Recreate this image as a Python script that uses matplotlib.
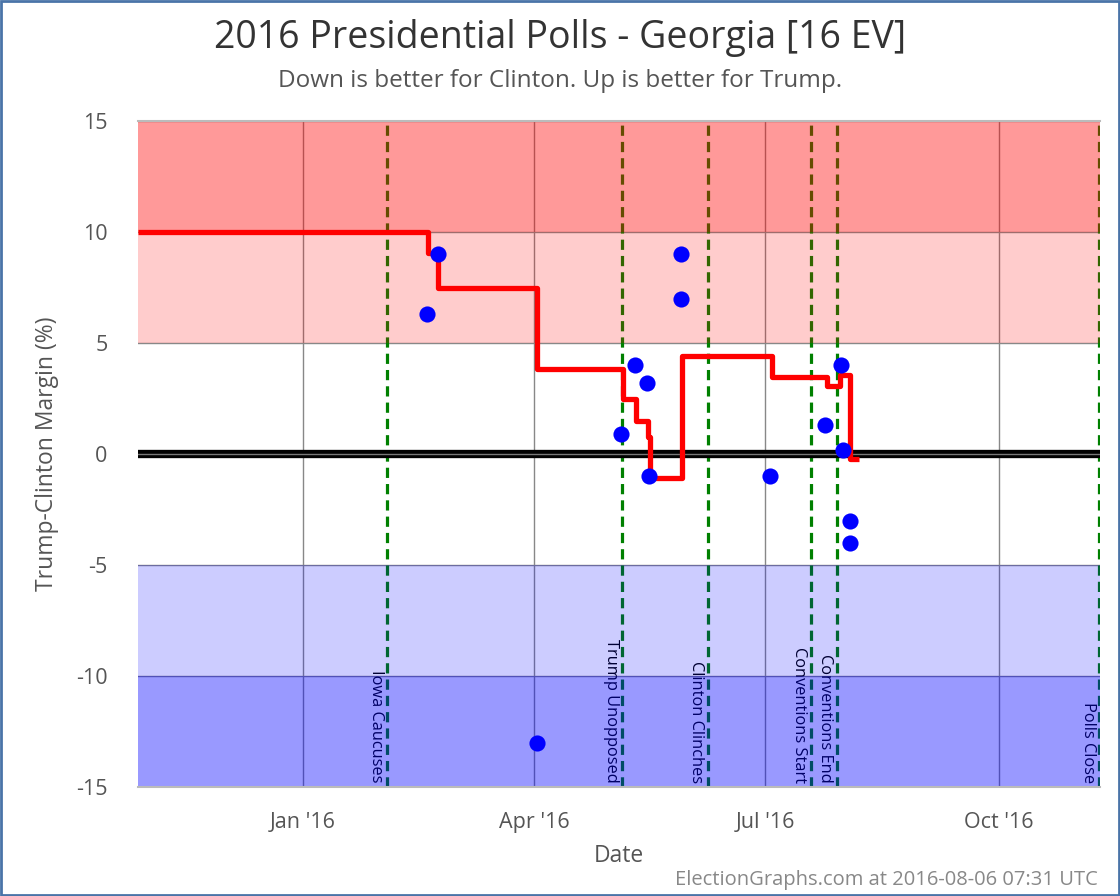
import matplotlib
matplotlib.use('Agg')
import matplotlib.pyplot as plt
import matplotlib.dates as mdates
import pandas as pd
from matplotlib.patches import Rectangle

plt.rcParams['font.family'] = ['Open Sans', 'DejaVu Sans']

# ---- data ----
poll_dates = ['2016-02-18 22:00', '2016-02-23 05:00', '2016-04-02 05:00', '2016-05-05 07:00',
              '2016-05-10 19:00', '2016-05-15 12:00', '2016-05-16 07:00', '2016-05-28 22:00',
              '2016-05-28 22:00', '2016-07-02 22:00', '2016-07-24 14:00', '2016-07-30 19:00',
              '2016-07-31 17:00', '2016-08-03 10:00', '2016-08-03 10:00']
poll_margins = [6.3, 9.0, -13.0, 0.9, 4.0, 3.2, -1.0, 9.0, 7.0, -1.0, 1.3, 4.0, 0.2, -3.0, -4.0]

avg_dates = ['2015-10-28 05:00', '2016-02-19 05:00', '2016-02-23 05:00', '2016-04-02 05:00',
             '2016-05-06 00:00', '2016-05-11 05:00', '2016-05-16 00:00', '2016-05-16 17:00',
             '2016-05-29 07:00', '2016-07-03 17:00', '2016-07-25 07:00', '2016-07-30 12:00',
             '2016-08-03 12:00', '2016-08-07 00:00']
avg_values = [10.0, 9.05, 7.5, 3.83, 2.48, 1.49, 0.77, -1.08, 4.41, 3.47, 3.06, 3.56, -0.23, -0.23]

event_dates = ['2016-02-03 05:00', '2016-05-05 17:00', '2016-06-08 12:00',
               '2016-07-19 00:00', '2016-07-29 05:00', '2016-11-09 10:00']
event_labels = ['Iowa Caucuses', 'Trump Unopposed', 'Clinton Clinches',
                'Conventions Start', 'Conventions End', 'Polls Close']

tick_dates = ['2016-01-01', '2016-04-01', '2016-07-01', '2016-10-01']
tick_labels = ["Jan '16", "Apr '16", "Jul '16", "Oct '16"]
y_ticks = [-15, -10, -5, 0, 5, 10, 15]
x_start, x_end = '2015-10-28 05:00', '2016-11-09 19:00'

band_lo = [10, 5, -10, -15]
band_hi = [15, 10, -5, -10]
band_colors = ['red', 'red', 'blue', 'blue']
band_alpha = [0.4, 0.2, 0.2, 0.4]

# ---- figure ----
fig = plt.figure(figsize=(11.2, 8.96), dpi=100)
ax = fig.add_axes([138/1120, 1-787/896, (1100-138)/1120, (787-121)/896])

td = pd.to_datetime(tick_dates)
ax.set_xlim(pd.Timestamp(x_start), pd.Timestamp(x_end))
ax.set_ylim(-15, 15)

# gridlines (under bands)
for t in td:
    ax.axvline(t, color='#888888', lw=1, zorder=1)
for y in y_ticks:
    if y != 0:
        ax.axhline(y, color='#888888', lw=1, zorder=1)

# event lines and labels (under bands)
for d, lab in zip(pd.to_datetime(event_dates), event_labels):
    ax.axvline(d, color='#008000', lw=2.3, ls=(0, (3.2, 1.9)), zorder=1.2)
    ax.annotate(lab, xy=(d, -15), xycoords='data', xytext=(-2.5, 3), textcoords='offset points',
                rotation=270, ha='right', va='bottom', fontsize=11.8, color='black', zorder=1.3)

# bands
for lo, hi, c, a in zip(band_lo, band_hi, band_colors, band_alpha):
    ax.axhspan(lo, hi, color=c, alpha=a, lw=0, zorder=2)

# zero line
ax.axhline(0, color='black', lw=6, zorder=3)
ax.axhline(0, color='#777777', lw=1, zorder=3.1)

# average line
ax.plot(pd.to_datetime(avg_dates), avg_values, drawstyle='steps-post', color='red',
        lw=3.8, zorder=4, solid_joinstyle='round', solid_capstyle='butt')

# polls
ax.scatter(pd.to_datetime(poll_dates), poll_margins, s=135, color='blue', zorder=5, lw=0)

ax.set_xticks(td)
ax.set_xticklabels(tick_labels)
ax.set_yticks(y_ticks)
ax.set_yticklabels([str(v) for v in y_ticks])
ax.tick_params(axis='both', length=0, labelsize=15.5, colors='#555555')
ax.tick_params(axis='y', pad=22)
ax.tick_params(axis='x', pad=18)

for s in ['left', 'right']:
    ax.spines[s].set_visible(False)
for s in ['top', 'bottom']:
    ax.spines[s].set_color('#bbbbbb')
    ax.spines[s].set_linewidth(1.5)

ax.set_xlabel('Date', fontsize=16.5, color='#555555', labelpad=8)
ax.set_ylabel('Trump-Clinton Margin (%)', fontsize=16.5, color='#555555', labelpad=12)

fig.text(0.5, 1-38/896, '2016 Presidential Polls - Georgia [16 EV]', ha='center', va='center',
         fontsize=27, color='#333333')
fig.text(0.5, 1-81/896, 'Down is better for Clinton. Up is better for Trump.', ha='center',
         va='center', fontsize=17.5, color='#555555')
fig.text(1098/1120, 1-880/896, 'ElectionGraphs.com at 2016-08-06 07:31 UTC', ha='right',
         va='center', fontsize=14.5, color='#888888')

fig.patches.append(Rectangle((0.001, 0.001), 0.998, 0.998, transform=fig.transFigure,
                             fill=False, edgecolor='#4a74a8', lw=2))

fig.savefig('out.png', dpi=100)
